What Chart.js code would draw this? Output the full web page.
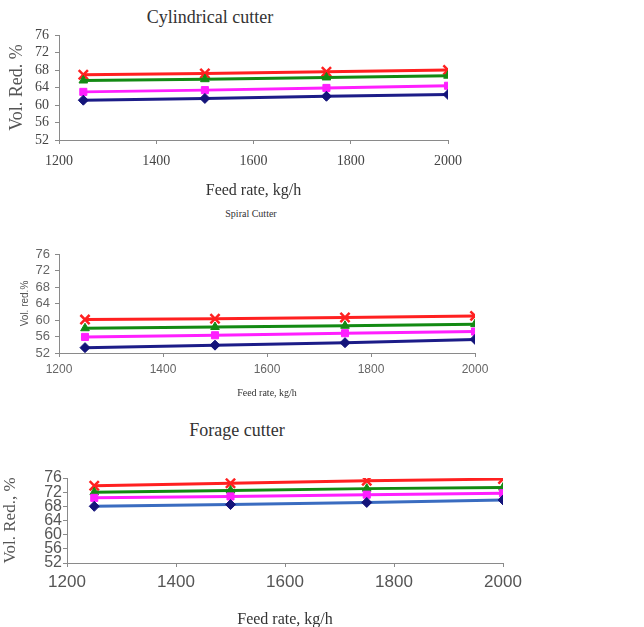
<!DOCTYPE html>
<html>
<head>
<meta charset="utf-8">
<script src="https://cdn.jsdelivr.net/npm/chart.js@4.4.1/dist/chart.umd.min.js"></script>
<style>
  html, body { margin: 0; padding: 0; background: #fff; overflow: hidden; }
  body { width: 644px; height: 627px; position: relative; }
  .panel { position: absolute; left: 0; }
  .ttl { position: absolute; transform: translate(-50%, -50%); white-space: nowrap;
         font-family: "Liberation Serif", serif; color: #333; }
</style>
</head>
<body>

<div class="ttl" style="left:210px; top:17px; font-size:18px;">Cylindrical cutter</div>
<div class="ttl" style="left:251px; top:213px; font-size:10px;">Spiral Cutter</div>
<div class="ttl" style="left:237px; top:430px; font-size:18px;">Forage cutter</div>

<canvas id="cyl" class="panel" style="top:0px;" width="644" height="200"></canvas>
<canvas id="spi" class="panel" style="top:200px;" width="644" height="200"></canvas>
<canvas id="frg" class="panel" style="top:400px;" width="644" height="230"></canvas>

<script>
// ─── Data ────────────────────────────────────────────────────────────────────
const feedRate = [1250, 1500, 1750, 2000];
const xTicks   = [1200, 1400, 1600, 1800, 2000];
const yTicks   = [52, 56, 60, 64, 68, 72, 76];

// Cylindrical cutter
const cylBlue    = [61.1, 61.5, 62.0, 62.4];
const cylMagenta = [63.0, 63.4, 63.9, 64.4];
const cylGreen   = [65.6, 65.9, 66.3, 66.7];
const cylRed     = [66.9, 67.2, 67.6, 68.0];

// Spiral cutter
const spiBlue    = [53.3, 53.9, 54.5, 55.3];
const spiMagenta = [55.9, 56.3, 56.8, 57.2];
const spiGreen   = [58.0, 58.3, 58.6, 59.0];
const spiRed     = [60.1, 60.3, 60.6, 61.0];

// Forage cutter
const frgBlue    = [68.0, 68.5, 69.1, 69.8];
const frgMagenta = [70.4, 70.8, 71.3, 71.7];
const frgGreen   = [72.0, 72.5, 73.0, 73.3];
const frgRed     = [73.8, 74.5, 75.2, 75.7];

// ─── Helpers ─────────────────────────────────────────────────────────────────
const SERIF = '"Liberation Serif", "Times New Roman", serif';
const SANS  = '"Liberation Sans", Arial, sans-serif';

function pts(vals) {
    return feedRate.map((x, i) => ({ x, y: vals[i] }));
}

function series(label, vals, color, style, markerColor) {
    return {
        label,
        data: pts(vals),
        borderColor: color,
        backgroundColor: markerColor || color,
        pointBorderColor: markerColor || color,
        pointBackgroundColor: markerColor || color,
        pointStyle: style,
        pointRadius: style === 'crossRot' ? 6.5 : 5,
        pointBorderWidth: style === 'crossRot' ? 2.5 : 1,
        borderWidth: 3,
        tension: 0
    };
}

function makePanel(id, p) {
    new Chart(document.getElementById(id), {
        type: 'line',
        data: {
            datasets: [
                series('Series 1', p.blue, p.blueLine || '#1c1c88', 'rectRot', '#14147a'),
                series('Series 2', p.magenta, '#ff1fff', 'rect'),
                series('Series 3', p.green, '#138a13', 'triangle'),
                series('Series 4', p.red, '#ff2020', 'crossRot')
            ]
        },
        options: {
            responsive: false,
            animation: false,
            layout: { padding: { top: p.top, right: p.right, bottom: 0, left: 0 } },
            plugins: { legend: { display: false }, tooltip: { enabled: false } },
            scales: {
                x: {
                    type: 'linear',
                    min: 1200,
                    max: 2000,
                    afterFit: s => { s.height = p.xHeight; },
                    afterBuildTicks: s => { s.ticks = xTicks.map(v => ({ value: v })); },
                    ticks: { color: p.tickColor, font: p.xTickFont, padding: p.xPad,
                             maxRotation: 0, autoSkip: false, callback: v => String(v) },
                    grid: { drawOnChartArea: false, tickLength: 4, color: '#8a8a8a' },
                    border: { color: '#8a8a8a', width: 1 },
                    title: { display: true, text: 'Feed rate, kg/h', color: '#333',
                             font: p.xTitleFont, padding: { top: 0, bottom: p.xTitlePad } }
                },
                y: {
                    min: 52,
                    max: 76,
                    afterFit: s => { s.width = p.yWidth; },
                    afterBuildTicks: s => { s.ticks = yTicks.map(v => ({ value: v })); },
                    ticks: { color: p.tickColor, font: p.yTickFont, padding: p.yPad,
                             autoSkip: false, callback: v => String(v) },
                    grid: { drawOnChartArea: false, tickLength: 4, color: '#8a8a8a' },
                    border: { color: '#8a8a8a', width: 1 },
                    title: { display: true, text: p.yTitle, color: '#555',
                             font: p.yTitleFont, padding: { top: p.yTitlePad, bottom: 0 } }
                }
            }
        }
    });
}

// ─── Panels ──────────────────────────────────────────────────────────────────
makePanel('cyl', {
    blue: cylBlue, magenta: cylMagenta, green: cylGreen, red: cylRed,
    top: 35, right: 196, xHeight: 60, yWidth: 59,
    tickColor: '#444',
    xTickFont: { family: SERIF, size: 14 }, xPad: 9,
    yTickFont: { family: SERIF, size: 14 }, yPad: 6,
    xTitleFont: { family: SERIF, size: 16 }, xTitlePad: 0,
    yTitle: 'Vol. Red. %', yTitleFont: { family: SERIF, size: 18 }, yTitlePad: 6
});

makePanel('spi', {
    blue: spiBlue, magenta: spiMagenta, green: spiGreen, red: spiRed,
    top: 54, right: 169, xHeight: 47, yWidth: 59,
    tickColor: '#666',
    xTickFont: { family: SANS, size: 12 }, xPad: 5,
    yTickFont: { family: SANS, size: 13 }, yPad: 5,
    xTitleFont: { family: SERIF, size: 10 }, xTitlePad: 1,
    yTitle: 'Vol. red.%', yTitleFont: { family: SANS, size: 10 }, yTitlePad: 19
});

makePanel('frg', {
    blue: frgBlue, magenta: frgMagenta, green: frgGreen, red: frgRed,
    blueLine: '#3a6cc0',
    top: 78, right: 141, xHeight: 67, yWidth: 67,
    tickColor: '#555',
    xTickFont: { family: SANS, size: 17 }, xPad: 5,
    yTickFont: { family: SANS, size: 16, lineHeight: 0.9 }, yPad: 1,
    xTitleFont: { family: SERIF, size: 16 }, xTitlePad: 1,
    yTitle: 'Vol. Red., %', yTitleFont: { family: SERIF, size: 17 }, yTitlePad: 0
});
</script>
</body>
</html>
